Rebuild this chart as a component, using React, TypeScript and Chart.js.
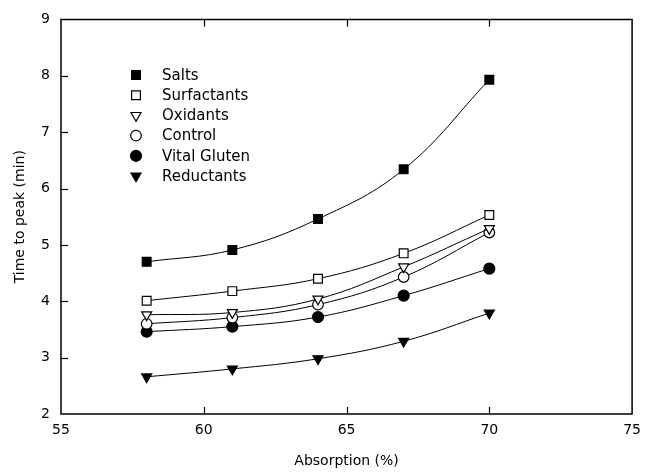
import React, { useEffect, useRef } from 'react';
import { Chart, registerables } from 'chart.js';
import { drawPoint } from 'chart.js/helpers';

Chart.register(...registerables);

const absorption = [58, 61, 64, 67, 70];
const salts = [4.70, 4.91, 5.46, 6.34, 7.93];
const surfactants = [4.01, 4.18, 4.40, 4.85, 5.53];
const oxidants = [3.76, 3.80, 4.04, 4.61, 5.29];
const control = [3.60, 3.71, 3.94, 4.43, 5.22];
const vitalGluten = [3.46, 3.55, 3.72, 4.10, 4.58];
const reductants = [2.66, 2.80, 2.98, 3.29, 3.79];

const seriesNames = ['Salts', 'Surfactants', 'Oxidants', 'Control', 'Vital Gluten', 'Reductants'];
const seriesValues = [salts, surfactants, oxidants, control, vitalGluten, reductants];
const seriesStyles = [
  { pointStyle: 'rect', rotation: 0, radius: 6.2, fill: '#000' },
  { pointStyle: 'rect', rotation: 0, radius: 6.2, fill: '#fff' },
  { pointStyle: 'triangle', rotation: 180, radius: 5.8, fill: '#fff' },
  { pointStyle: 'circle', rotation: 0, radius: 5.3, fill: '#fff' },
  { pointStyle: 'circle', rotation: 0, radius: 5.5, fill: '#000' },
  { pointStyle: 'triangle', rotation: 180, radius: 5.8, fill: '#000' },
];

const xTitle = 'Absorption (%)';
const yTitle = 'Time to peak (min)';
const FONT = "'DejaVu Sans', sans-serif";

const framePlugin = {
  id: 'frame',
  afterDraw(chart: any) {
    const { ctx, chartArea: a, scales } = chart;
    ctx.save();
    ctx.strokeStyle = '#000';
    ctx.lineWidth = 1.5;
    ctx.beginPath();
    ctx.rect(a.left, a.top, a.right - a.left, a.bottom - a.top);
    ctx.stroke();
    ctx.lineWidth = 1.2;
    const tl = 7;
    scales.x.ticks.forEach((t: any) => {
      if (t.value <= scales.x.min || t.value >= scales.x.max) return;
      const px = Math.round(scales.x.getPixelForValue(t.value)) + 0.5;
      ctx.beginPath();
      ctx.moveTo(px, a.bottom);
      ctx.lineTo(px, a.bottom - tl);
      ctx.moveTo(px, a.top);
      ctx.lineTo(px, a.top + tl);
      ctx.stroke();
    });
    scales.y.ticks.forEach((t: any) => {
      if (t.value <= scales.y.min || t.value >= scales.y.max) return;
      const py = Math.round(scales.y.getPixelForValue(t.value)) + 0.5;
      ctx.beginPath();
      ctx.moveTo(a.left, py);
      ctx.lineTo(a.left + tl, py);
      ctx.stroke();
    });
    // legend
    const lx = 136;
    const tx = 162;
    const ly0 = 75;
    const dy = 20.2;
    ctx.font = `15px ${FONT}`;
    ctx.textBaseline = 'middle';
    ctx.textAlign = 'left';
    chart.data.datasets.forEach((ds: any, i: number) => {
      const s = seriesStyles[i];
      const y = ly0 + i * dy;
      ctx.fillStyle = s.fill;
      ctx.strokeStyle = '#000';
      ctx.lineWidth = 1.2;
      drawPoint(ctx, { pointStyle: s.pointStyle, rotation: s.rotation, radius: s.radius, borderWidth: 1.2 } as any, lx, y);
      ctx.fillStyle = '#000';
      ctx.fillText(ds.label, tx, y + 1);
    });
    ctx.restore();
  },
};

export default function App() {
  const ref = useRef<HTMLCanvasElement | null>(null);
  useEffect(() => {
    document.body.style.margin = '0';
    const canvas = ref.current!;
    const chart = new Chart(canvas, {
      type: 'line',
      data: {
        datasets: seriesNames.map((name, i) => ({
          label: name,
          data: absorption.map((x, j) => ({ x, y: seriesValues[i][j] })),
          borderColor: '#000',
          borderWidth: 1,
          tension: 0.4,
          pointStyle: seriesStyles[i].pointStyle,
          pointRotation: seriesStyles[i].rotation,
          pointRadius: seriesStyles[i].radius,
          pointBackgroundColor: seriesStyles[i].fill,
          pointBorderColor: '#000',
          pointBorderWidth: 1.2,
          fill: false,
        })) as any,
      },
      options: {
        responsive: false,
        animation: false,
        devicePixelRatio: 1,
        layout: { padding: { top: 19, right: 10, bottom: 0, left: 0 } },
        plugins: { legend: { display: false }, tooltip: { enabled: false } },
        scales: {
          x: {
            type: 'linear',
            min: 55,
            max: 75,
            grid: { display: false, drawTicks: false },
            border: { display: false },
            ticks: { stepSize: 5, color: '#000', font: { family: FONT, size: 14 }, padding: 8, maxRotation: 0 },
            title: { display: true, text: xTitle, color: '#000', font: { family: FONT, size: 14 }, padding: { top: 0, bottom: 2 } },
            afterFit(scale: any) { scale.height = 58; },
          },
          y: {
            type: 'linear',
            min: 2,
            max: 9,
            grid: { display: false, drawTicks: false },
            border: { display: false },
            ticks: { stepSize: 1, color: '#000', font: { family: FONT, size: 14 }, padding: 11 },
            title: { display: true, text: yTitle, color: '#000', font: { family: FONT, size: 14 }, padding: { top: 12, bottom: 0 } },
            afterFit(scale: any) { scale.width = 61; },
          },
        },
      },
      plugins: [framePlugin],
    });
    return () => chart.destroy();
  }, []);
  return (
    <div style={{ width: 649, height: 472 }}>
      <canvas ref={ref} width={649} height={472} style={{ display: 'block' }} />
    </div>
  );
}
